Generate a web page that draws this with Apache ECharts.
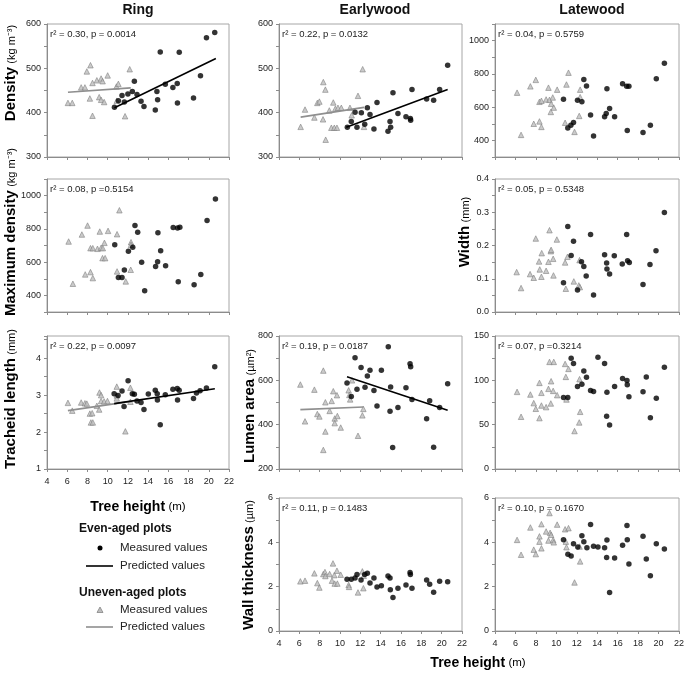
<!DOCTYPE html>
<html>
<head>
<meta charset="utf-8">
<script src="https://cdn.jsdelivr.net/npm/echarts@6/dist/echarts.min.js"></script>
<style>
html, body { margin: 0; padding: 0; background: #fff; }
#main { width: 685px; height: 675px; }
</style>
</head>
<body>
<div id="main"></div>
<script>
// tree height (m) against wood properties; [height, value]
// even-aged plots = black dots, uneven-aged plots = grey triangles

// Ring density (kg m-3)
var densRingEven = [[10.67,412],[11.06,427],[11.42,439],[11.65,424],[12.0,442],[12.44,448],[12.64,471],[12.9,441],[13.3,426],[13.59,414],[14.71,406],[14.87,448],[14.94,429],[15.2,537],[15.7,464],[16.45,457],[16.88,466],[16.9,422],[17.08,536],[18.49,433],[19.18,483],[19.77,569],[20.59,581]];
var densRingUneven = [[6.07,422],[6.5,422],[7.38,457],[7.75,457],[7.94,493],[8.3,507],[8.24,432],[8.5,467],[8.5,393],[8.93,473],[9.16,435],[9.35,429],[9.35,477],[9.5,471],[9.65,424],[10.0,484],[10.87,459],[11.06,465],[10.9,427],[11.72,392],[12.18,498]];
var densRingFitEven = [[10.67,411],[20.7,522]];
var densRingFitUneven = [[6.07,446],[12.28,456]];

// Earlywood density (kg m-3)
var densEarlyEven = [[10.72,367],[11.11,380],[11.48,401],[11.67,367],[12.1,400],[12.43,374],[12.69,411],[12.95,396],[13.34,363],[13.64,423],[14.72,358],[14.92,380],[14.98,367],[15.21,445],[15.7,398],[16.49,391],[16.92,387],[16.95,383],[17.08,452],[18.52,431],[19.21,428],[19.8,452],[20.59,507]];
var densEarlyUneven = [[6.13,368],[6.56,407],[7.48,389],[7.77,422],[7.97,425],[8.36,469],[8.33,385],[8.56,452],[8.59,339],[8.95,405],[9.15,366],[9.34,423],[9.44,366],[9.54,409],[9.7,366],[9.8,411],[10.13,411],[10.98,411],[11.15,394],[11.77,438],[12.23,498],[12.36,368]];
var densEarlyFitEven = [[10.62,367],[20.59,452]];
var densEarlyFitUneven = [[6.13,390],[12.36,412]];

// Latewood density (kg m-3)
var densLateEven = [[10.7,648],[11.12,475],[11.42,491],[11.68,508],[12.07,642],[12.5,632],[12.69,766],[12.95,727],[13.35,553],[13.64,426],[14.72,542],[14.88,561],[14.95,711],[15.21,591],[15.7,542],[16.48,740],[16.88,725],[16.94,459],[17.1,725],[18.48,447],[19.2,491],[19.78,770],[20.57,864]];
var densLateUneven = [[6.16,687],[6.55,433],[7.46,725],[7.79,500],[7.99,764],[8.35,632],[8.35,514],[8.54,638],[8.54,481],[9.0,646],[9.23,717],[9.33,644],[9.49,620],[9.65,658],[9.75,597],[9.46,571],[10.08,705],[10.86,506],[10.99,736],[11.19,807],[11.78,451],[12.24,547],[12.33,705],[12.33,660]];

// Maximum density, ring (kg m-3)
var maxDensEven = [[10.7,704],[11.06,508],[11.42,508],[11.65,552],[12.05,666],[12.48,690],[12.7,820],[12.97,780],[13.36,600],[13.66,428],[14.74,574],[14.94,602],[14.97,776],[15.24,668],[15.73,578],[16.48,808],[16.91,806],[16.98,482],[17.14,810],[18.55,464],[19.21,526],[19.83,850],[20.66,980]];
var maxDensUneven = [[6.14,724],[6.56,470],[7.45,766],[7.78,526],[8.01,820],[8.3,540],[8.3,684],[8.53,684],[8.53,504],[8.99,680],[9.22,784],[9.35,686],[9.49,624],[9.75,624],[9.68,716],[9.52,684],[10.04,788],[10.93,768],[10.93,544],[11.16,912],[11.79,484],[12.31,720],[12.31,704],[12.28,554]];

// Latewood width (mm)
var widthEven = [[10.7,0.088],[11.12,0.257],[11.45,0.170],[11.68,0.213],[12.07,0.066],[12.46,0.151],[12.69,0.137],[12.92,0.108],[13.35,0.233],[13.64,0.051],[14.72,0.172],[14.92,0.147],[14.95,0.129],[15.21,0.114],[15.67,0.169],[16.45,0.144],[16.88,0.233],[16.97,0.154],[17.14,0.149],[18.48,0.083],[19.16,0.143],[19.75,0.184],[20.57,0.299]];
var widthUneven = [[6.12,0.120],[6.55,0.072],[7.43,0.114],[7.79,0.103],[7.99,0.221],[8.31,0.152],[8.38,0.128],[8.54,0.106],[8.57,0.177],[9.0,0.124],[9.23,0.151],[9.33,0.246],[9.46,0.183],[9.49,0.187],[9.69,0.160],[9.72,0.110],[10.05,0.218],[10.86,0.149],[10.93,0.070],[11.09,0.166],[11.71,0.092],[12.2,0.080],[12.3,0.075],[12.27,0.156]];

// Ring tracheid length (mm)
var trachEven = [[10.64,3.04],[11.03,2.99],[11.42,3.11],[11.62,2.69],[12.02,3.39],[12.44,3.04],[12.64,3.02],[12.9,2.84],[13.3,2.80],[13.59,2.61],[14.02,3.03],[14.71,3.13],[14.9,3.04],[14.92,2.87],[15.2,2.20],[15.7,3.01],[16.45,3.16],[16.88,3.18],[16.91,2.87],[17.07,3.13],[18.49,2.91],[18.78,3.06],[19.14,3.12],[19.77,3.19],[20.59,3.77]];
var trachUneven = [[6.07,2.79],[6.5,2.58],[7.38,2.80],[7.75,2.78],[7.94,2.77],[8.24,2.50],[8.47,2.51],[8.34,2.26],[8.53,2.26],[8.93,2.71],[9.16,2.61],[9.19,3.07],[9.35,3.0],[9.35,2.84],[9.65,2.83],[9.98,2.84],[10.9,2.99],[10.9,3.23],[10.9,2.91],[11.75,2.02],[12.25,2.82],[12.25,3.2]];
var trachFitEven = [[10.64,2.77],[20.6,3.17]];
var trachFitUneven = [[6.07,2.58],[12.3,2.83]];

// Earlywood lumen area (um2)
var lumenEven = [[10.69,588],[11.11,527],[11.48,702],[11.67,560],[12.07,658],[12.46,569],[12.69,620],[12.95,646],[13.34,554],[13.64,484],[14.07,646],[14.75,752],[14.92,460],[14.98,570],[15.18,297],[15.7,477],[16.49,566],[16.89,675],[16.95,661],[17.08,514],[18.52,427],[18.82,508],[19.21,298],[19.8,478],[20.59,585]];
var lumenUneven = [[6.1,581],[6.56,415],[7.48,558],[7.77,448],[7.97,437],[8.36,644],[8.56,501],[8.56,369],[8.36,286],[8.98,462],[9.18,507],[9.34,551],[9.48,428],[9.48,407],[9.7,533],[9.74,439],[10.07,387],[10.85,555],[10.92,534],[11.0,514],[11.18,600],[11.77,350],[12.2,442],[12.3,471]];
var lumenFitEven = [[10.69,616],[20.59,465]];
var lumenFitUneven = [[6.1,468],[12.3,480]];

// Latewood lumen area (um2)
var lumenLateEven = [[10.7,80.6],[11.12,80.6],[11.45,124.9],[11.68,118.9],[12.07,93],[12.5,95.6],[12.69,110.6],[12.95,103.5],[13.35,88.5],[13.64,87.4],[14.07,126],[14.72,118.9],[14.95,86.6],[14.92,59.6],[15.21,49.5],[15.7,93],[16.48,102],[16.91,99.8],[16.94,94.9],[17.1,81.4],[18.48,87],[18.8,103.9],[19.2,57.8],[19.78,79.9],[20.57,114.8]];
var lumenLateUneven = [[6.16,87],[6.55,58.9],[7.46,84],[7.79,74.3],[7.99,67.9],[8.35,97.1],[8.35,57.4],[8.54,85.9],[8.54,71.6],[9.0,69.8],[9.23,90.4],[9.33,120.8],[9.49,99],[9.46,73.9],[9.69,88.1],[9.75,120.8],[10.08,83.3],[10.86,118.5],[10.93,103.9],[10.99,78.4],[11.19,112.9],[11.78,42.8],[12.27,101.3],[12.33,64.5],[12.24,52.5]];

// Earlywood wall thickness (um)
var wallEarlyEven = [[10.69,2.34],[11.11,2.34],[11.48,2.39],[11.67,2.55],[12.07,2.30],[12.43,2.55],[12.69,2.60],[12.95,2.16],[13.34,2.39],[13.64,1.99],[14.07,2.04],[14.72,2.48],[14.92,2.39],[14.95,1.86],[15.21,1.51],[15.7,1.93],[16.49,2.08],[16.89,2.64],[16.92,2.55],[17.08,1.93],[18.52,2.30],[18.82,2.11],[19.21,1.75],[19.8,2.25],[20.59,2.22]];
var wallEarlyUneven = [[6.1,2.24],[6.56,2.27],[7.48,2.60],[7.77,2.16],[7.97,1.96],[8.36,2.57],[8.52,2.66],[8.56,2.48],[8.98,2.57],[9.31,3.05],[9.21,2.27],[9.44,2.52],[9.48,2.14],[9.7,2.72],[9.74,2.14],[10.07,2.54],[10.85,2.08],[10.89,1.99],[11.77,1.74],[12.2,2.69],[12.3,1.93],[12.33,2.49]];

// Latewood wall thickness (um)
var wallLateEven = [[10.7,4.12],[11.13,3.46],[11.45,3.38],[11.68,3.94],[12.1,3.79],[12.5,4.30],[12.69,4.03],[12.99,3.76],[13.35,4.80],[13.64,3.82],[14.07,3.79],[14.72,3.76],[14.95,4.11],[14.92,3.32],[15.21,1.74],[15.7,3.29],[16.48,3.87],[16.91,4.76],[16.94,4.12],[17.1,3.02],[18.48,4.27],[18.8,3.25],[19.2,2.49],[19.78,3.94],[20.57,3.70]];
var wallLateUneven = [[6.16,4.11],[6.55,3.44],[7.46,4.67],[7.79,3.67],[7.99,3.47],[8.35,4.27],[8.35,4.03],[8.54,4.82],[8.54,3.73],[9.0,4.49],[9.23,4.08],[9.33,5.32],[9.39,4.43],[9.49,4.34],[9.69,4.11],[9.75,4.0],[10.08,4.80],[10.86,4.59],[10.93,4.03],[10.99,3.78],[11.19,4.64],[11.78,2.19],[12.27,3.81],[12.33,3.14]];

var xTicks = [4, 22, 2];   // min, max, step of tree height axis

var FONT = '"Liberation Sans", Arial, sans-serif';
var colLeft = [47, 279, 495], colWidth = [182, 183, 184];
var rowTop = [24, 179, 336, 498], rowHeight = 133;

var panels = [
    { row: 0, col: 0, yMin: 300, yMax: 600, tick: 50, lab: 100, dec: 0, even: densRingEven, uneven: densRingUneven, fitEven: densRingFitEven, fitUneven: densRingFitUneven, stat: 'r² = 0.30, p = 0.0014' },
    { row: 0, col: 1, yMin: 300, yMax: 600, tick: 50, lab: 100, dec: 0, even: densEarlyEven, uneven: densEarlyUneven, fitEven: densEarlyFitEven, fitUneven: densEarlyFitUneven, stat: 'r² = 0.22, p = 0.0132' },
    { row: 0, col: 2, yMin: 300, yMax: 1100, tick: 100, lab: 200, dec: 0, even: densLateEven, uneven: densLateUneven, stat: 'r² = 0.04, p = 0.5759' },
    { row: 1, col: 0, yMin: 300, yMax: 1100, tick: 100, lab: 200, dec: 0, even: maxDensEven, uneven: maxDensUneven, stat: 'r² = 0.08, p =0.5154' },
    { row: 1, col: 2, yMin: 0, yMax: 0.4, tick: 0.05, lab: 0.1, dec: 1, even: widthEven, uneven: widthUneven, stat: 'r² = 0.05, p = 0.5348' },
    { row: 2, col: 0, yMin: 1, yMax: 4.6, tick: 0.5, lab: 1, dec: 0, even: trachEven, uneven: trachUneven, fitEven: trachFitEven, fitUneven: trachFitUneven, stat: 'r² = 0.22, p = 0.0097', xLab: true },
    { row: 2, col: 1, yMin: 200, yMax: 800, tick: 100, lab: 200, dec: 0, even: lumenEven, uneven: lumenUneven, fitEven: lumenFitEven, fitUneven: lumenFitUneven, stat: 'r² = 0.19, p = 0.0187' },
    { row: 2, col: 2, yMin: 0, yMax: 150, tick: 25, lab: 50, dec: 0, even: lumenLateEven, uneven: lumenLateUneven, stat: 'r² = 0.07, p =0.3214' },
    { row: 3, col: 1, yMin: 0, yMax: 6, tick: 1, lab: 2, dec: 0, even: wallEarlyEven, uneven: wallEarlyUneven, stat: 'r² = 0.11, p = 0.1483', xLab: true },
    { row: 3, col: 2, yMin: 0, yMax: 6, tick: 1, lab: 2, dec: 0, even: wallLateEven, uneven: wallLateUneven, stat: 'r² = 0.10, p = 0.1670', xLab: true }
];

var grids = [], xAxes = [], yAxes = [], series = [], graphics = [];

panels.forEach(function (p, i) {
    var left = colLeft[p.col], top = rowTop[p.row], w = colWidth[p.col];
    grids.push({
        left: left, top: top, width: w, height: rowHeight,
        show: true, borderColor: '#a6a6a6', borderWidth: 1,
        containLabel: false, outerBoundsMode: 'none'
    });
    xAxes.push({
        type: 'value', gridIndex: i, min: xTicks[0], max: xTicks[1], interval: xTicks[2],
        axisLine: { show: true, onZero: false, lineStyle: { color: '#8c8c8c', width: 1 } },
        axisTick: { show: true, length: 3, lineStyle: { color: '#8c8c8c' } },
        axisLabel: { show: !!p.xLab, margin: 8, fontSize: 9, color: '#222', fontFamily: FONT },
        splitLine: { show: false }
    });
    yAxes.push({
        type: 'value', gridIndex: i, min: p.yMin, max: p.yMax, interval: p.tick,
        axisLine: { show: true, onZero: false, lineStyle: { color: '#8c8c8c', width: 1 } },
        axisTick: { show: true, length: 3, lineStyle: { color: '#8c8c8c' } },
        axisLabel: {
            margin: 6, fontSize: 9, color: '#222', fontFamily: FONT,
            formatter: function (v) {
                var k = v / p.lab;
                if (Math.abs(k - Math.round(k)) > 1e-6) return '';
                return v.toFixed(p.dec);
            }
        },
        splitLine: { show: false }
    });
    series.push({
        type: 'scatter', xAxisIndex: i, yAxisIndex: i, data: p.uneven,
        symbol: 'triangle', symbolSize: 5.5, z: 2,
        itemStyle: { color: '#bdbdbd', borderColor: '#7a7a7a', borderWidth: 0.7 }
    });
    if (p.fitUneven) {
        series.push({
            type: 'line', xAxisIndex: i, yAxisIndex: i, data: p.fitUneven,
            showSymbol: false, z: 3, silent: true,
            lineStyle: { color: '#8f8f8f', width: 1.6 }
        });
    }
    series.push({
        type: 'scatter', xAxisIndex: i, yAxisIndex: i, data: p.even,
        symbol: 'circle', symbolSize: 5.5, z: 4,
        itemStyle: { color: '#000' }
    });
    if (p.fitEven) {
        series.push({
            type: 'line', xAxisIndex: i, yAxisIndex: i, data: p.fitEven,
            showSymbol: false, z: 5, silent: true,
            lineStyle: { color: '#000', width: 1.6 }
        });
    }
    graphics.push({
        type: 'text', x: left + 3, y: top + 10, z: 10,
        style: { text: p.stat, font: '9.5px ' + FONT, fill: '#222', verticalAlign: 'middle' }
    });
});

// column titles
[['Ring', 138], ['Earlywood', 375], ['Latewood', 592]].forEach(function (t) {
    graphics.push({
        type: 'text', x: t[1], y: 10,
        style: { text: t[0], font: 'bold 14px ' + FONT, fill: '#111', align: 'center', verticalAlign: 'middle' }
    });
});

// y axis titles, rotated
var richTitle = {
    b: { fontSize: 15, fontWeight: 'bold', fontFamily: FONT, color: '#111', verticalAlign: 'bottom' },
    n: { fontSize: 11, fontFamily: FONT, color: '#111', verticalAlign: 'bottom', padding: [0, 0, 1, 0] }
};
[
    ['Density', '(kg m⁻³)', 11, 73],
    ['Maximum density', '(kg m⁻³)', 11, 232],
    ['Tracheid length', '(mm)', 11, 399],
    ['Width', '(mm)', 465, 232],
    ['Lumen area', '(µm²)', 250, 406],
    ['Wall thickness', '(µm)', 249, 565]
].forEach(function (t) {
    graphics.push({
        type: 'text', x: t[2], y: t[3], rotation: Math.PI / 2,
        style: { text: '{b|' + t[0] + '} {n|' + t[1] + '}', rich: richTitle, align: 'center', verticalAlign: 'middle' }
    });
});

// x axis titles
var richX = {
    b: { fontSize: 14, fontWeight: 'bold', fontFamily: FONT, color: '#111', verticalAlign: 'bottom' },
    n: { fontSize: 11.5, fontFamily: FONT, color: '#111', verticalAlign: 'bottom', padding: [0, 0, 1, 0] }
};
[[138, 507], [478, 663]].forEach(function (t) {
    graphics.push({
        type: 'text', x: t[0], y: t[1],
        style: { text: '{b|Tree height} {n|(m)}', rich: richX, align: 'center', verticalAlign: 'middle' }
    });
});

// legend
var legFont = '11.5px ' + FONT, legBold = 'bold 12px ' + FONT;
graphics.push(
    { type: 'text', x: 79, y: 529, style: { text: 'Even-aged plots', font: legBold, fill: '#111', verticalAlign: 'middle' } },
    { type: 'circle', shape: { cx: 100, cy: 548, r: 2.5 }, style: { fill: '#000' } },
    { type: 'text', x: 120, y: 548, style: { text: 'Measured values', font: legFont, fill: '#222', verticalAlign: 'middle' } },
    { type: 'line', shape: { x1: 86, y1: 566, x2: 113, y2: 566 }, style: { stroke: '#000', lineWidth: 1.6 } },
    { type: 'text', x: 120, y: 566, style: { text: 'Predicted values', font: legFont, fill: '#222', verticalAlign: 'middle' } },
    { type: 'text', x: 79, y: 593, style: { text: 'Uneven-aged plots', font: legBold, fill: '#111', verticalAlign: 'middle' } },
    { type: 'polygon', shape: { points: [[100, 607], [103, 612.5], [97, 612.5]] }, style: { fill: '#bdbdbd', stroke: '#7a7a7a', lineWidth: 0.7 } },
    { type: 'text', x: 120, y: 610, style: { text: 'Measured values', font: legFont, fill: '#222', verticalAlign: 'middle' } },
    { type: 'line', shape: { x1: 86, y1: 627, x2: 113, y2: 627 }, style: { stroke: '#8f8f8f', lineWidth: 1.6 } },
    { type: 'text', x: 120, y: 627, style: { text: 'Predicted values', font: legFont, fill: '#222', verticalAlign: 'middle' } }
);

var chart = echarts.init(document.getElementById('main'), null, { renderer: 'canvas' });
chart.setOption({
    animation: false,
    backgroundColor: '#fff',
    grid: grids,
    xAxis: xAxes,
    yAxis: yAxes,
    series: series,
    graphic: graphics
});
</script>
</body>
</html>
